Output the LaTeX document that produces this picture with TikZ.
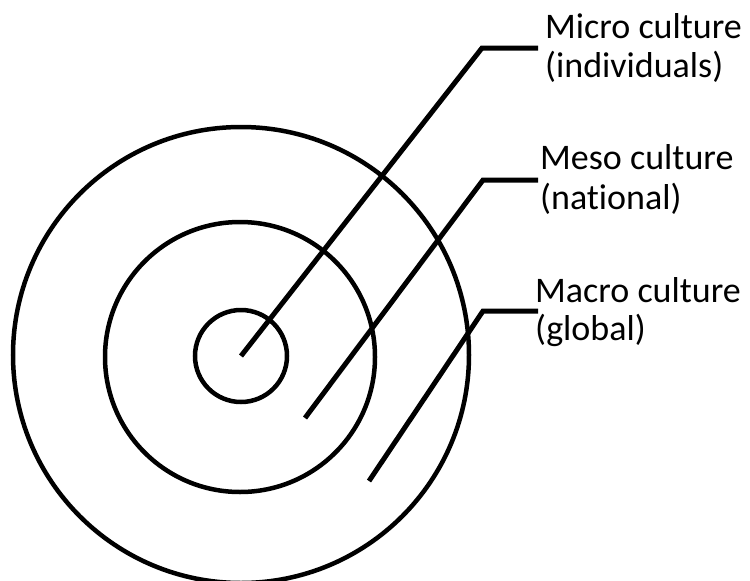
\documentclass[tikz,border=0pt]{standalone}
\usepackage{fontspec}
\setmainfont[Ligatures=NoCommon]{Carlito}
\begin{document}
\begin{tikzpicture}[x=1pt,y=-1pt,
  ring/.style={draw=black,line width=4.5pt,circle,inner sep=0pt,outer sep=0pt},
  leader/.style={draw=black,line width=5pt},
  lbl/.style={anchor=base west,inner sep=0pt,font=\fontsize{36}{39}\selectfont}]
\useasboundingbox (0,0) rectangle (750,581);
\node[ring,minimum size=456pt] (outer) at (241,355) {};
\node[ring,minimum size=270pt] (middle) at (240,357) {};
\node[ring,minimum size=92pt] (inner) at (241,356) {};
% label texts
\node[lbl] (mi1) at (545,38) {Micro culture};
\node[lbl] (mi2) at (545,77) {(individuals)};
\node[lbl] (me1) at (540,169) {Meso culture};
\node[lbl] (me2) at (540,209) {(national)};
\node[lbl] (ma1) at (535,302) {Macro culture};
\node[lbl] (ma2) at (535,340) {(global)};
% leader coordinates
\coordinate (kmi) at (482,48);
\coordinate (emi) at (538,48);
\coordinate (sme) at (305,418);
\coordinate (kme) at (483,180);
\coordinate (eme) at (538,180);
\coordinate (sma) at (369,481);
\coordinate (kma) at (483,311);
\coordinate (ema) at (538,311);
\draw[leader] (inner.center) -- (kmi) -- (emi);
\draw[leader] (sme) -- (kme) -- (eme);
\draw[leader] (sma) -- (kma) -- (ema);
\end{tikzpicture}
\end{document}
